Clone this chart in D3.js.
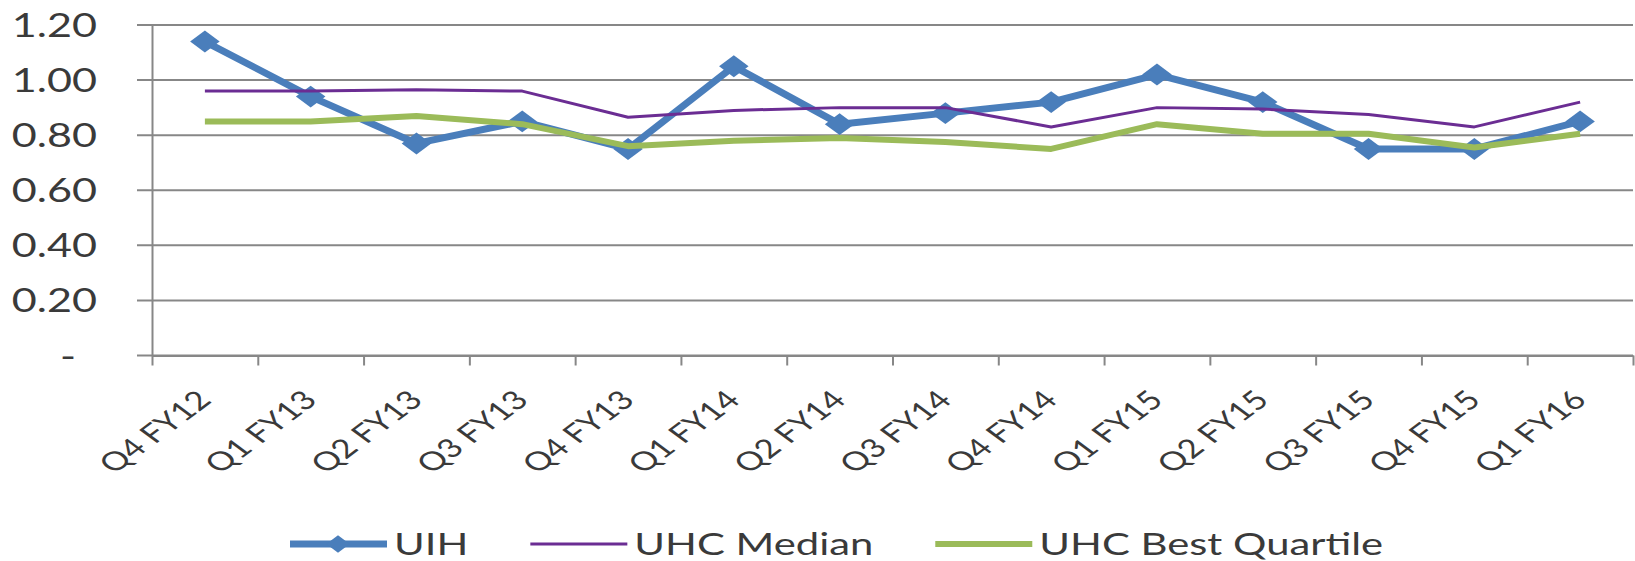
<!DOCTYPE html>
<html lang="en">
<head>
<meta charset="utf-8">
<script src="https://d3js.org/d3.v7.min.js"></script>
<style>
  body { margin: 0; background: #fff; }
  text { font-family: Lato, sans-serif; fill: #3a3a3a; }
  .ylab { font-size: 32px; }
  .xlab { font-size: 26px; }
  .leg { font-size: 31px; }
</style>
</head>
<body>
<svg width="1635" height="561"></svg>
<script>
  // chart data
  var quarters = ["Q4 FY12", "Q1 FY13", "Q2 FY13", "Q3 FY13", "Q4 FY13", "Q1 FY14", "Q2 FY14",
                  "Q3 FY14", "Q4 FY14", "Q1 FY15", "Q2 FY15", "Q3 FY15", "Q4 FY15", "Q1 FY16"];
  var uih = [1.14, 0.94, 0.77, 0.85, 0.75, 1.05, 0.84, 0.88, 0.92, 1.02, 0.92, 0.75, 0.75, 0.85];
  var uhcMedian = [0.96, 0.96, 0.965, 0.96, 0.865, 0.89, 0.90, 0.90, 0.83, 0.90, 0.895, 0.875, 0.83, 0.92];
  var uhcBest = [0.85, 0.85, 0.87, 0.84, 0.76, 0.78, 0.79, 0.775, 0.75, 0.84, 0.805, 0.805, 0.755, 0.805];
  var yTicks = [0, 0.2, 0.4, 0.6, 0.8, 1.0, 1.2];
  var seriesNames = ["UIH", "UHC Median", "UHC Best Quartile"];
  var seriesColors = ["#4A7EBB", "#6B2D93", "#9BBB59"];
  var seriesWidths = [7, 3, 6];

  var svg = d3.select("svg");
  var margin = {top: 25, right: 2, bottom: 205.5, left: 152};
  var width = svg.attr("width") - margin.left - margin.right;
  var height = svg.attr("height") - margin.top - margin.bottom;
  var gridColor = "#878787";

  // the source picture is an Excel chart stretched sideways: text and markers get a
  // horizontal scale, taken from the width of the longest legend entry
  var probe = svg.append("text").attr("class", "leg").text("UHC Best Quartile");
  var sx = 344 / probe.node().getComputedTextLength();
  probe.remove();
  var stretch = "scale(" + sx + ",1)";

  var g = svg.append("g")
    .attr("transform", "translate(" + margin.left + "," + margin.top + ")");

  var x = d3.scaleBand().domain(quarters).range([0, width]);
  var y = d3.scaleLinear().domain([0, 1.2]).range([height, 0]);
  var xc = function (d) { return x(d) + x.bandwidth() / 2; };

  // horizontal gridlines, running out past the axis like Excel tick marks
  g.selectAll(".grid")
    .data(yTicks)
    .enter()
    .append("line")
    .attr("class", "grid")
    .attr("x1", -15)
    .attr("x2", width)
    .attr("y1", function (d) { return y(d); })
    .attr("y2", function (d) { return y(d); })
    .attr("stroke", gridColor)
    .attr("stroke-width", 2);

  // y axis
  var yAxis = g.append("g")
    .call(d3.axisLeft(y).tickValues(yTicks).tickSize(0)
      .tickFormat(function (d) { return d === 0 ? "-" : d3.format(".2f")(d); }));
  yAxis.select(".domain").attr("stroke", gridColor).attr("stroke-width", 2);
  yAxis.selectAll(".tick text")
    .attr("class", "ylab")
    .attr("x", 0)
    .attr("dy", "0.36em")
    .attr("fill", null)
    .attr("transform", "translate(-55,0) " + stretch);
  yAxis.selectAll(".tick").filter(function (d) { return d === 0; }).select("text")
    .attr("text-anchor", "middle")
    .attr("transform", "translate(-84,0) " + stretch);

  // x axis, ticks on category boundaries
  var xb = d3.scaleLinear().domain([0, quarters.length]).range([0, width]);
  var xAxis = g.append("g")
    .attr("transform", "translate(0," + height + ")")
    .call(d3.axisBottom(xb).tickValues(d3.range(quarters.length + 1))
      .tickSize(10).tickSizeOuter(0).tickFormat(""));
  xAxis.select(".domain").attr("stroke", gridColor).attr("stroke-width", 2);
  xAxis.selectAll(".tick line").attr("stroke", gridColor).attr("stroke-width", 2);

  g.selectAll(".xlab")
    .data(quarters)
    .enter()
    .append("text")
    .attr("class", "xlab")
    .attr("text-anchor", "end")
    .attr("transform", function (d) {
      return "translate(" + (xc(d) + 8) + "," + (height + 46) + ") " + stretch + " rotate(-45)";
    })
    .text(function (d) { return d; });

  // series lines
  var line = function (vals) {
    return d3.line()
      .x(function (v, i) { return xc(quarters[i]); })
      .y(function (v) { return y(v); })(vals);
  };

  [uih, uhcMedian, uhcBest].forEach(function (vals, k) {
    g.append("path")
      .attr("d", line(vals))
      .attr("fill", "none")
      .attr("stroke", seriesColors[k])
      .attr("stroke-width", seriesWidths[k])
      .attr("stroke-linejoin", "round");
    if (k === 0) {
      g.selectAll(".mk")
        .data(vals)
        .enter()
        .append("path")
        .attr("class", "mk")
        .attr("d", d3.symbol(d3.symbolSquare, 240)())
        .attr("transform", function (v, i) {
          return "translate(" + xc(quarters[i]) + "," + y(v) + ") " + stretch + " rotate(45)";
        })
        .attr("fill", seriesColors[k]);
    }
  });

  // legend
  var leg = svg.append("g").attr("transform", "translate(0,544)");
  var lx = 290;
  seriesNames.forEach(function (name, i) {
    leg.append("line")
      .attr("x1", lx).attr("x2", lx + 97)
      .attr("stroke", seriesColors[i]).attr("stroke-width", seriesWidths[i]);
    if (i === 0) {
      leg.append("path")
        .attr("d", d3.symbol(d3.symbolSquare, 150)())
        .attr("transform", "translate(" + (lx + 48) + ",0) " + stretch + " rotate(45)")
        .attr("fill", seriesColors[i]);
    }
    var t = leg.append("text")
      .attr("class", "leg")
      .attr("dy", "0.36em")
      .attr("transform", "translate(" + (lx + 104) + ",0) " + stretch)
      .text(name);
    lx += 104 + t.node().getComputedTextLength() * sx + 62;
  });
</script>
</body>
</html>
